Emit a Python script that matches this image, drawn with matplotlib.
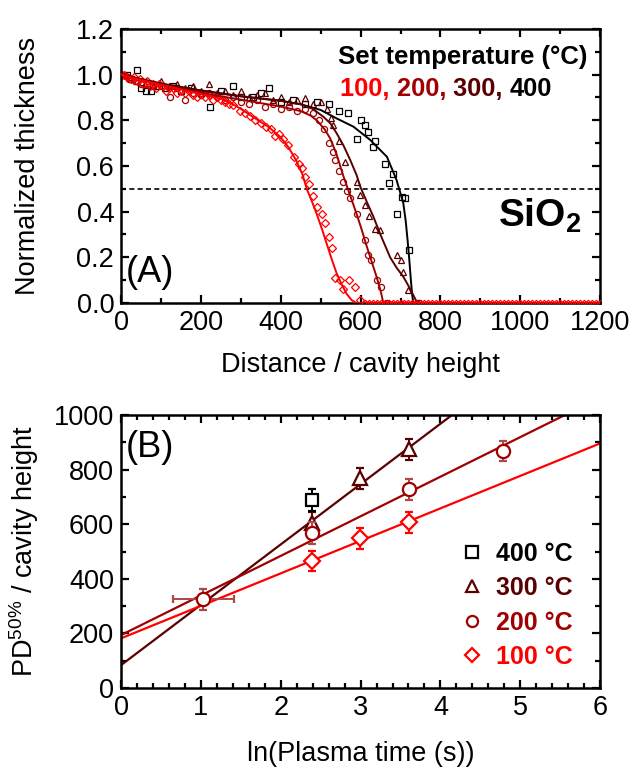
import matplotlib
matplotlib.use("Agg")
import matplotlib.pyplot as plt
from matplotlib.lines import Line2D
from matplotlib.ticker import MultipleLocator

plt.rcParams['font.family'] = ['Liberation Sans', 'DejaVu Sans']
plt.rcParams['mathtext.fontset'] = 'custom'
plt.rcParams['mathtext.rm'] = 'Liberation Sans'
plt.rcParams['mathtext.bf'] = 'Liberation Sans:bold'

# colours per set temperature
c400 = '#000000'
c300 = '#5a0000'
c200 = '#a00000'
c100 = '#ff0000'

# ---- panel A: normalized thickness vs distance ----
x400 = [5, 15, 25, 39, 50, 62, 75, 90, 110, 130, 150, 175, 200, 223, 250, 281, 300, 330, 350, 371,
        400, 430, 460, 490, 520, 545, 569, 590, 600, 611, 619, 632, 637, 661, 670, 680, 690, 703, 711, 722, 745]
y400 = [1.0, 1.0, 0.98, 1.02, 0.94, 0.93, 0.93, 0.95, 0.94, 0.95, 0.93, 0.94, 0.92, 0.86, 0.93, 0.95, 0.90, 0.90, 0.92, 0.94,
        0.88, 0.89, 0.87, 0.88, 0.87, 0.84, 0.83, 0.72, 0.80, 0.78, 0.75, 0.685, 0.71, 0.61, 0.524, 0.565, 0.39, 0.466, 0.46, 0.23, 0.0]

x300 = [5, 20, 40, 60, 80, 100, 120, 140, 160, 180, 200, 220, 240, 260, 280, 300, 320, 340, 360, 380, 400,
        420, 440, 461, 480, 500, 515, 526, 532, 547, 561, 590, 599, 611, 620, 636, 648, 690, 701, 707, 720, 745]
y300 = [1.0, 0.99, 0.97, 0.96, 0.95, 0.97, 0.95, 0.96, 0.94, 0.95, 0.93, 0.96, 0.92, 0.93, 0.91, 0.93, 0.90, 0.91, 0.92, 0.89, 0.90,
        0.88, 0.89, 0.897, 0.87, 0.88, 0.85, 0.81, 0.78, 0.71, 0.616, 0.53, 0.473, 0.43, 0.38, 0.323, 0.32, 0.21, 0.19, 0.137, 0.057, 0.0]

x200 = [5, 20, 35, 50, 65, 80, 100, 123, 140, 160, 180, 200, 220, 240, 260, 280, 300, 320, 340, 360, 380,
        400, 420, 440, 460, 480, 495, 508, 520, 530, 537, 545, 557, 565, 574, 590, 610, 619, 627, 640, 650, 665]
y200 = [1.0, 0.98, 0.97, 0.96, 0.96, 0.95, 0.95, 0.90, 0.94, 0.89, 0.92, 0.91, 0.92, 0.90, 0.89, 0.90, 0.88, 0.87, 0.89, 0.86, 0.87,
        0.85, 0.86, 0.84, 0.85, 0.83, 0.80, 0.76, 0.70, 0.66, 0.625, 0.58, 0.53, 0.49, 0.46, 0.39, 0.275, 0.21, 0.19, 0.10, 0.07, 0.0]

x100 = [0, 8, 16, 24, 32, 40, 48, 56, 64, 72, 80, 88, 96, 104, 112, 120, 130, 140, 150, 160, 170, 180, 190, 200,
        210, 220, 230, 240, 250, 260, 270, 281, 297, 310, 322, 335, 350, 364, 375, 385, 395, 405, 418, 432, 445,
        453, 461, 470, 482, 491, 503, 511, 520, 528, 536, 549, 557, 570, 587, 599]
y100 = [1.0, 1.0, 0.99, 0.98, 0.99, 0.97, 0.98, 0.96, 0.97, 0.95, 0.96, 0.94, 0.96, 0.95, 0.93, 0.94, 0.94, 0.92, 0.93, 0.92, 0.93, 0.91, 0.90, 0.92,
        0.90, 0.91, 0.89, 0.90, 0.89, 0.88, 0.87, 0.867, 0.84, 0.83, 0.82, 0.80, 0.79, 0.77, 0.76, 0.73, 0.74, 0.72, 0.69, 0.64, 0.61,
        0.59, 0.55, 0.52, 0.47, 0.42, 0.39, 0.35, 0.29, 0.24, 0.11, 0.10, 0.06, 0.10, 0.07, 0.015]

# fully etched positions (thickness = 0)
x_zero = [610, 620, 630, 640, 650, 660, 670, 680, 690, 700, 710, 720, 730, 740, 750, 760, 770, 780, 790, 800,
          810, 820, 830, 840, 850, 860, 870, 880, 890, 900, 910, 920, 930, 940, 950, 960, 970, 980, 990, 1000,
          1010, 1020, 1030, 1040, 1050, 1060, 1070, 1080, 1090, 1100, 1110, 1120, 1130, 1140, 1150, 1160, 1170,
          1180, 1190, 1200]

# fitted curves
fx400 = [0, 100, 200, 300, 400, 450, 500, 540, 582, 624, 666, 690, 707, 713, 718, 722, 726, 729, 732, 1200]
fy400 = [1.0, 0.96, 0.93, 0.905, 0.885, 0.87, 0.845, 0.808, 0.772, 0.714, 0.64, 0.539, 0.437, 0.36, 0.27, 0.19, 0.10, 0.04, 0.0, 0.0]
fx300 = [0, 100, 200, 300, 400, 450, 480, 507, 525, 540, 557, 574, 590, 599, 615, 632, 652, 674, 690, 707, 720, 732, 742, 1200]
fy300 = [1.0, 0.96, 0.93, 0.905, 0.885, 0.87, 0.85, 0.815, 0.785, 0.743, 0.69, 0.626, 0.56, 0.51, 0.445, 0.378, 0.29, 0.20, 0.155, 0.115, 0.075, 0.035, 0.0, 0.0]
fx200 = [0, 100, 200, 300, 400, 450, 475, 490, 510, 524, 540, 557, 570, 590, 603, 615, 628, 640, 650, 657, 1200]
fy200 = [1.0, 0.955, 0.92, 0.89, 0.86, 0.84, 0.82, 0.80, 0.76, 0.72, 0.65, 0.555, 0.49, 0.39, 0.32, 0.25, 0.18, 0.115, 0.055, 0.0, 0.0]
fx100 = [0, 50, 100, 150, 200, 250, 280, 300, 330, 370, 400, 420, 440, 455, 465, 478, 490, 503, 515, 528, 540, 553, 565, 578, 590, 1200]
fy100 = [1.0, 0.975, 0.955, 0.935, 0.915, 0.895, 0.87, 0.85, 0.815, 0.77, 0.725, 0.68, 0.62, 0.56, 0.50, 0.445, 0.39, 0.325, 0.26, 0.19, 0.13, 0.08, 0.04, 0.012, 0.0, 0.0]

# ---- panel B: PD50% vs ln(plasma time) ----
bx400 = [2.39]
by400 = [689]
be400 = [40]
bx300 = [2.39, 2.99, 3.61]
by300 = [603, 768, 874]
be300 = [40, 38, 38]
bx200 = [1.03, 2.39, 3.61, 4.78]
by200 = [325, 567, 728, 868]
be200 = [38, 40, 38, 38]
bxe200 = [0.38, 0, 0, 0]
bx100 = [2.39, 2.99, 3.61]
by100 = [465, 548, 607]
be100 = [38, 38, 38]

# linear fits (intercept, slope)
fit300 = (84, 221)
fit200 = (194, 145)
fit100 = (182, 119)

fig = plt.figure(figsize=(6.34, 7.70), dpi=100)
axA = fig.add_axes([0.191, 0.6065, 0.7555, 0.356])
axB = fig.add_axes([0.191, 0.1065, 0.7555, 0.3545])

ms_a = 4.4
for fx, fy, c in [(fx400, fy400, c400), (fx300, fy300, c300), (fx200, fy200, c200), (fx100, fy100, c100)]:
    axA.plot(fx, fy, '-', color=c, lw=1.4, zorder=3)
axA.plot(x400, y400, 's', ms=ms_a, mfc='none', mec=c400, mew=0.9, zorder=2)
axA.plot(x300, y300, '^', ms=ms_a + 0.6, mfc='none', mec=c300, mew=0.9, zorder=2)
axA.plot(x200, y200, 'o', ms=ms_a, mfc='none', mec=c200, mew=0.9, zorder=2)
axA.plot(x100, y100, 'D', ms=ms_a - 0.4, mfc='none', mec=c100, mew=0.9, zorder=2)
axA.plot(x_zero, [0] * len(x_zero), 'D', ms=3.2, mfc='none', mec=c100, mew=0.9, zorder=4)
axA.axhline(0.5, color='black', ls=(0, (3, 2)), lw=1.2)

axA.set_xlim(0, 1200)
axA.set_ylim(0, 1.2)
axA.xaxis.set_major_locator(MultipleLocator(200))
axA.xaxis.set_minor_locator(MultipleLocator(100))
axA.yaxis.set_major_locator(MultipleLocator(0.2))
axA.yaxis.set_minor_locator(MultipleLocator(0.1))
axA.yaxis.set_major_formatter(plt.FormatStrFormatter('%.1f'))
axA.set_xlabel('Distance / cavity height', fontsize=19.5)
axA.set_ylabel('Normalized thickness', fontsize=19.5)
axA.xaxis.set_label_coords(0.5, -0.18)
axA.yaxis.set_label_coords(-0.168, 0.5)

axA.text(12, 0.093, '(A)', fontsize=26, va='baseline', ha='left')
axA.text(1154, 0.334, r'SiO$_\mathbf{2}$', fontsize=28, fontweight='bold', va='baseline', ha='right')
axA.text(1167, 1.077, 'Set temperature (°C)', fontsize=18.5, fontweight='bold', ha='right', va='center')
prev = axA.text(549, 0.937, '100, ', fontsize=18.3, fontweight='bold', color=c100, ha='left', va='center')
for s, c in [('200, ', c200), ('300, ', c300), ('400', c400)]:
    prev = axA.annotate(s, xy=(1, 0), xycoords=prev, ha='left', va='bottom',
                        fontsize=18.3, fontweight='bold', color=c)

# panel B
xs = [0, 6]
for (b, m), c in [(fit300, c300), (fit200, c200), (fit100, c100)]:
    axB.plot(xs, [b + m * xs[0], b + m * xs[1]], '-', color=c, lw=1.6, zorder=2)

ms_b = 9.5
axB.errorbar(bx200, by200, yerr=be200, xerr=bxe200, fmt='o', ms=ms_b, mfc='white', mec=c200, mew=1.6,
             ecolor='#b04848', elinewidth=1.4, capsize=3, capthick=1.4, zorder=4)
axB.errorbar(bx100, by100, yerr=be100, fmt='D', ms=ms_b - 1, mfc='white', mec=c100, mew=1.6,
             ecolor=c100, elinewidth=1.4, capsize=3, capthick=1.4, zorder=4)
axB.errorbar(bx300, by300, yerr=be300, fmt='^', ms=ms_b + 0.5, mfc='white', mec=c300, mew=1.6,
             ecolor=c300, elinewidth=1.4, capsize=3, capthick=1.4, zorder=3)
axB.errorbar(bx400, by400, yerr=be400, fmt='s', ms=ms_b - 1, mfc='white', mec=c400, mew=1.6,
             ecolor=c400, elinewidth=1.4, capsize=3, capthick=1.4, zorder=3)

axB.set_xlim(0, 6)
axB.set_ylim(0, 1000)
axB.xaxis.set_major_locator(MultipleLocator(1))
axB.xaxis.set_minor_locator(MultipleLocator(0.2))
axB.yaxis.set_major_locator(MultipleLocator(200))
axB.yaxis.set_minor_locator(MultipleLocator(100))
axB.set_xlabel('ln(Plasma time (s))', fontsize=19.5)
axB.set_ylabel(r'PD$^{50\%}$ / cavity height', fontsize=19.5)
axB.xaxis.set_label_coords(0.5, -0.195)
axB.yaxis.set_label_coords(-0.168, 0.5)
axB.text(0.06, 847, '(B)', fontsize=26, va='baseline', ha='left')

handles = [Line2D([], [], ls='none', marker='s', ms=8, mfc='none', mec=c400, mew=1.6),
           Line2D([], [], ls='none', marker='^', ms=9, mfc='none', mec=c300, mew=1.6),
           Line2D([], [], ls='none', marker='o', ms=8, mfc='none', mec=c200, mew=1.6),
           Line2D([], [], ls='none', marker='D', ms=7.5, mfc='none', mec=c100, mew=1.6)]
labels = ['400 °C', '300 °C', '200 °C', '100 °C']
leg = axB.legend(handles, labels, loc='upper left', bbox_to_anchor=(0.67, 0.6), frameon=False,
                 prop={'size': 18, 'weight': 'bold'}, labelcolor=[c400, c300, c200, c100],
                 handlelength=1.0, handletextpad=0.45, labelspacing=0.42, borderpad=0.2)

for ax in (axA, axB):
    for sp in ax.spines.values():
        sp.set_linewidth(1.8)
    ax.tick_params(which='both', direction='in', top=True, right=True, labelsize=19.5, width=1.6)
    ax.tick_params(which='major', length=6, pad=5)
    ax.tick_params(which='minor', length=3.5)

fig.savefig('out.png', dpi=100)
